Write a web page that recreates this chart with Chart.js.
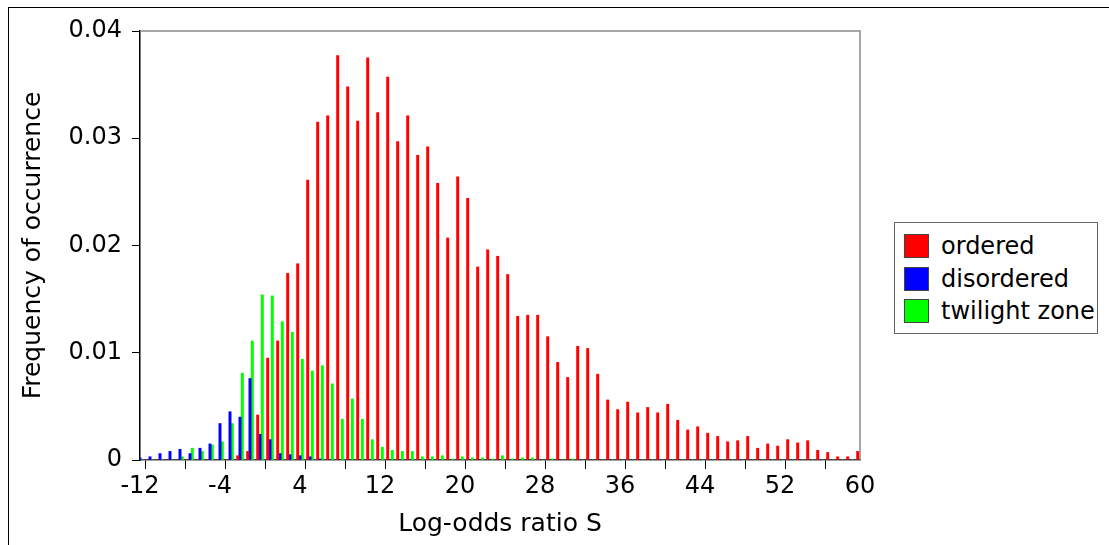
<!DOCTYPE html>
<html>
<head>
<meta charset="utf-8">
<title>Log-odds ratio distribution</title>
<script src="https://cdn.jsdelivr.net/npm/chart.js@4.4.0/dist/chart.umd.min.js"></script>
<style>
  body { margin: 0; background: #fff; font-family: "DejaVu Sans", sans-serif; }
  #page { position: relative; width: 1109px; height: 545px; overflow: hidden; }
  #frame { position: absolute; left: 8px; top: 7px; right: -4px; bottom: -4px;
           border-left: 1px solid #000; border-top: 1px solid #000; }
  #plot { position: absolute; left: 0; top: 0; width: 880px; height: 545px; }
  #legend { position: absolute; left: 894px; top: 222px; width: 204px; height: 112px;
            border: 1px solid #666; background: #fff; box-sizing: border-box; }
  .item { position: absolute; left: 9px; height: 24px; display: flex; align-items: center;
          font-size: 24px; color: #000; white-space: nowrap; }
  .swatch { width: 25px; height: 24px; border: 1px solid #444; box-sizing: border-box; margin-right: 12px; }
</style>
</head>
<body>
<div id="page">
  <div id="frame"></div>
  <div id="plot"><canvas id="chart"></canvas></div>
  <div id="legend"></div>
</div>
<script>
// bins of the log-odds ratio S (one bar per integer bin and class)
const bins = Array.from({ length: 73 }, (_, i) => i - 12);

const ordered = [
  0, 0, 0, 0, 0, 0, 0, 0, 0, 0,                                                // -12..-3
  0.0004, 0.0008, 0.0042, 0.0095, 0.0111, 0.0174, 0.0183, 0.0261, 0.0315, 0.0321, // -2..7
  0.0377, 0.0348, 0.0316, 0.0375, 0.0324, 0.0357, 0.0297, 0.0321, 0.0284, 0.0292, // 8..17
  0.0258, 0.0207, 0.0264, 0.0244, 0.0180, 0.0196, 0.0190, 0.0173, 0.0134, 0.0135, // 18..27
  0.0135, 0.0115, 0.0091, 0.0077, 0.0106, 0.0104, 0.0080, 0.0056, 0.0047, 0.0054, // 28..37
  0.0044, 0.0049, 0.0044, 0.0052, 0.0037, 0.0028, 0.0031, 0.0025, 0.0022, 0.0017, // 38..47
  0.0018, 0.0022, 0.0011, 0.0015, 0.0013, 0.0019, 0.0016, 0.0018, 0.0009, 0.0007, // 48..57
  0.0003, 0.0003, 0.0008                                                       // 58..60
];

const disordered = [
  0.0002, 0.0003, 0.0006, 0.0008, 0.0010, 0.0006, 0.0011, 0.0015, 0.0034, 0.0045, // -12..-3
  0.0040, 0.0076, 0.0024, 0.0019, 0.0006, 0.0005, 0.0004, 0.0003, 0.0001, 0,      // -2..7
  0, 0, 0, 0, 0, 0, 0, 0, 0, 0,
  0, 0, 0, 0, 0, 0, 0, 0, 0, 0,
  0, 0, 0, 0, 0, 0, 0, 0, 0, 0,
  0, 0, 0, 0, 0, 0, 0, 0, 0, 0,
  0, 0, 0, 0, 0, 0, 0, 0, 0, 0,
  0, 0, 0
];

const twilight = [
  0, 0, 0, 0, 0.0003, 0.0011, 0.0008, 0.0014, 0.0017, 0.0034,                  // -12..-3
  0.0081, 0.0111, 0.0154, 0.0153, 0.0129, 0.0119, 0.0094, 0.0083, 0.0088, 0.0071, // -2..7
  0.0038, 0.0057, 0.0038, 0.0019, 0.0012, 0.0009, 0.0008, 0.0008, 0.0003, 0.0003, // 8..17
  0.0004, 0.0001, 0.0003, 0.0002, 0.0002, 0.0001, 0.0004, 0.0001, 0.0002, 0.0002, // 18..27
  0, 0.0001, 0, 0.0001, 0, 0, 0, 0, 0, 0,                                      // 28..37
  0, 0, 0, 0, 0, 0, 0, 0, 0, 0,
  0, 0, 0, 0, 0, 0, 0, 0, 0, 0,
  0, 0, 0
];

const seriesNames = ["ordered", "disordered", "twilight zone"];
const seriesColors = ["#ff0000", "#0000ff", "#00ff00"];

const xLabelTicks = [-12, -4, 4, 12, 20, 28, 36, 44, 52, 60];
const xMarkTicks = [-11.5, -7.5, -3.5, 0.5, 4.5, 8.5, 12.5, 16.5, 20.5, 24.5, 28.5, 32.5, 36.5, 40.5, 44.5, 48.5, 52.5, 56.5];
const yTicks = [0, 0.01, 0.02, 0.03, 0.04];

const FONT = "'DejaVu Sans', sans-serif";

function points(values) {
  return bins.map((b, i) => ({ x: b, y: values[i] }));
}

// grey top/right edges of the plot box
const plotFrame = {
  id: "plotFrame",
  beforeDatasetsDraw(chart) {
    const { ctx, chartArea: a } = chart;
    ctx.save();
    ctx.strokeStyle = "#8a8a8a";
    ctx.lineWidth = 1.5;
    ctx.beginPath();
    ctx.moveTo(a.left, a.top);
    ctx.lineTo(a.right, a.top);
    ctx.lineTo(a.right, a.bottom);
    ctx.stroke();
    ctx.restore();
  }
};

const allSeries = [ordered, disordered, twilight];

new Chart(document.getElementById("chart"), {
  type: "bar",
  data: {
    datasets: allSeries.map((vals, i) => ({
      label: seriesNames[i],
      data: points(vals),
      backgroundColor: seriesColors[i],
      borderWidth: 0,
      barThickness: 2.3
    }))
  },
  options: {
    responsive: true,
    maintainAspectRatio: false,
    animation: false,
    devicePixelRatio: 1,
    layout: { padding: { left: 0, top: 31, right: 20, bottom: 0 } },
    plugins: { legend: { display: false }, tooltip: { enabled: false } },
    scales: {
      x: {
        type: "linear",
        min: -12,
        max: 60,
        offset: false,
        afterFit: axis => { axis.height = 85; },
        afterBuildTicks: axis => {
          axis.ticks = xLabelTicks.concat(xMarkTicks).sort((a, b) => a - b).map(v => ({ value: v }));
        },
        ticks: {
          autoSkip: false,
          maxRotation: 0,
          padding: 3,
          color: "#000",
          font: { family: FONT, size: 24 },
          callback: v => xLabelTicks.includes(v) ? String(v) : ""
        },
        grid: {
          offset: false,
          drawOnChartArea: false,
          drawTicks: true,
          tickLength: 9,
          tickColor: c => (c.tick && xMarkTicks.includes(c.tick.value)) ? "#000" : "rgba(0,0,0,0)"
        },
        border: { display: true, color: "#444", width: 1.5 },
        title: {
          display: true,
          text: "Log-odds ratio S",
          color: "#000",
          font: { family: FONT, size: 25 },
          padding: { top: 0, bottom: 6 }
        }
      },
      y: {
        min: 0,
        max: 0.04,
        afterFit: axis => { axis.width = 140; },
        afterBuildTicks: axis => { axis.ticks = yTicks.map(v => ({ value: v })); },
        ticks: {
          padding: 10,
          color: "#000",
          font: { family: FONT, size: 24 },
          callback: v => v === 0 ? "0" : v.toFixed(2)
        },
        grid: { drawOnChartArea: false, drawTicks: true, tickLength: 8, tickColor: "#000" },
        border: { display: true, color: "#000", width: 1.5 },
        title: {
          display: true,
          text: "Frequency of occurrence",
          color: "#000",
          font: { family: FONT, size: 25 },
          padding: { top: 18, bottom: 0 }
        }
      }
    }
  },
  plugins: [plotFrame]
});

// legend box on the right
const legend = document.getElementById("legend");
seriesNames.forEach((name, i) => {
  const row = document.createElement("div");
  row.className = "item";
  row.style.top = (11 + i * 32.5) + "px";
  row.innerHTML = '<span class="swatch" style="background:' + seriesColors[i] + '"></span>' + name;
  legend.appendChild(row);
});
</script>
</body>
</html>
